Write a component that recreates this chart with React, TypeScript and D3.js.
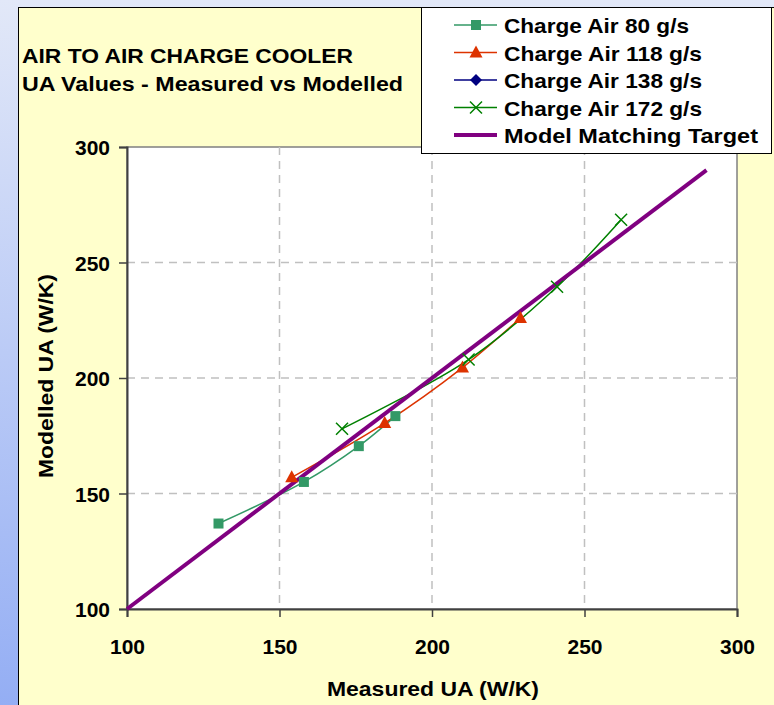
import React, { useEffect, useRef } from 'react';
import * as d3 from 'd3';

// values
const air80X = [130, 158, 176, 188];
const air80Y = [137, 155, 170.5, 183.5];
const air118X = [154, 184.5, 210, 229];
const air118Y = [157, 180.5, 204.5, 226];
const air138X: number[] = [];
const air138Y: number[] = [];
const air172X = [170.5, 212, 241, 262];
const air172Y = [178, 208, 239.5, 268.5];
const targetX = [100, 290];
const targetY = [100, 290];

const xTicks = [100, 150, 200, 250, 300];
const yTicks = [100, 150, 200, 250, 300];
const titleLines = ['AIR TO AIR CHARGE COOLER', 'UA Values - Measured vs Modelled'];

const seriesNames = ['Charge Air 80 g/s', 'Charge Air 118 g/s', 'Charge Air 138 g/s', 'Charge Air 172 g/s', 'Model Matching Target'];
const legendWidths = [185, 198, 198, 198, 254];

const FONT = '"Liberation Sans", Arial, sans-serif';

const App = () => {
    const svgRef = useRef<SVGSVGElement>(null);

    useEffect(() => {
        const svg = d3.select(svgRef.current);
        svg.selectAll('*').remove();

        const width = 774;
        const height = 705;
        const plot = { left: 127, right: 737, top: 147, bottom: 609 };

        const x = d3.scaleLinear().domain([100, 300]).range([plot.left, plot.right]);
        const y = d3.scaleLinear().domain([100, 300]).range([plot.bottom, plot.top]);

        // background gradient
        const defs = svg.append('defs');
        const grad = defs.append('linearGradient')
            .attr('id', 'bg')
            .attr('x1', 0).attr('y1', 0).attr('x2', 0).attr('y2', 1);
        grad.append('stop').attr('offset', '0%').attr('stop-color', '#e2e8f8');
        grad.append('stop').attr('offset', '100%').attr('stop-color', '#94aef4');

        svg.append('rect').attr('width', width).attr('height', height).attr('fill', 'url(#bg)');

        // chart area
        svg.append('rect')
            .attr('x', 18.5).attr('y', 7.5)
            .attr('width', width + 10).attr('height', height + 10)
            .attr('fill', '#ffffcc')
            .attr('stroke', '#000').attr('stroke-width', 1);

        // plot area
        svg.append('rect')
            .attr('x', plot.left).attr('y', plot.top)
            .attr('width', plot.right - plot.left).attr('height', plot.bottom - plot.top)
            .attr('fill', '#fff')
            .attr('stroke', '#808080').attr('stroke-width', 1.5);

        // grid
        const grid = svg.append('g');
        grid.selectAll('line.vx')
            .data(xTicks.filter(d => d > 100 && d < 300))
            .join('line')
            .attr('x1', d => x(d)).attr('x2', d => x(d))
            .attr('y1', plot.top).attr('y2', plot.bottom)
            .attr('stroke', '#c0c0c0').attr('stroke-width', 1.5).attr('stroke-dasharray', '8,6');
        grid.selectAll('line.hy')
            .data(yTicks.filter(d => d > 100 && d < 300))
            .join('line')
            .attr('y1', d => y(d)).attr('y2', d => y(d))
            .attr('x1', plot.left).attr('x2', plot.right)
            .attr('stroke', '#c0c0c0').attr('stroke-width', 1.5).attr('stroke-dasharray', '8,6');

        // axes
        const xAxis = svg.append('g')
            .attr('transform', `translate(0,${plot.bottom})`)
            .call(d3.axisBottom(x).tickValues(xTicks).tickSize(8).tickFormat(d3.format('d')));
        xAxis.select('.domain').attr('stroke', '#404040').attr('stroke-width', 2);
        xAxis.selectAll('.tick line').attr('stroke', '#404040').attr('stroke-width', 1.5);
        xAxis.selectAll('.tick text')
            .attr('y', 45).attr('dy', 0)
            .attr('font-family', FONT).attr('font-size', 21).attr('font-weight', 'bold').attr('fill', '#000');

        const yAxis = svg.append('g')
            .attr('transform', `translate(${plot.left},0)`)
            .call(d3.axisLeft(y).tickValues(yTicks).tickSize(8).tickFormat(d3.format('d')));
        yAxis.select('.domain').attr('stroke', '#404040').attr('stroke-width', 2);
        yAxis.selectAll('.tick line').attr('stroke', '#404040').attr('stroke-width', 1.5);
        yAxis.selectAll('.tick text')
            .attr('x', -17).attr('dy', '0.36em')
            .attr('font-family', FONT).attr('font-size', 21).attr('font-weight', 'bold').attr('fill', '#000');

        // axis titles
        svg.append('text')
            .attr('x', 327)
            .attr('y', 696)
            .attr('font-family', FONT).attr('font-size', 21).attr('font-weight', 'bold')
            .attr('textLength', 212).attr('lengthAdjust', 'spacingAndGlyphs')
            .text('Measured UA (W/K)');

        svg.append('text')
            .attr('transform', `translate(53,478) rotate(-90)`)
            .attr('font-family', FONT).attr('font-size', 21).attr('font-weight', 'bold')
            .attr('textLength', 204).attr('lengthAdjust', 'spacingAndGlyphs')
            .text('Modelled UA (W/K)');

        // title
        svg.append('text')
            .attr('x', 22).attr('y', 63)
            .attr('font-family', FONT).attr('font-size', 20).attr('font-weight', 'bold')
            .attr('textLength', 331).attr('lengthAdjust', 'spacingAndGlyphs')
            .text(titleLines[0]);
        svg.append('text')
            .attr('x', 22).attr('y', 91)
            .attr('font-family', FONT).attr('font-size', 20).attr('font-weight', 'bold')
            .attr('textLength', 381).attr('lengthAdjust', 'spacingAndGlyphs')
            .text(titleLines[1]);

        // series
        const series = [
            { xs: air80X, ys: air80Y, color: '#339966', marker: 'square', width: 1.5 },
            { xs: air118X, ys: air118Y, color: '#dd3300', marker: 'triangle', width: 1.5 },
            { xs: air138X, ys: air138Y, color: '#000080', marker: 'diamond', width: 1.5 },
            { xs: air172X, ys: air172Y, color: '#008000', marker: 'cross', width: 1.5 },
            { xs: targetX, ys: targetY, color: '#800080', marker: 'none', width: 4 },
        ];

        const line = d3.line<[number, number]>()
            .x(d => x(d[0]))
            .y(d => y(d[1]))
            .curve(d3.curveCatmullRom.alpha(0.5));

        const drawMarker = (g: any, kind: string, cx: number, cy: number, color: string) => {
            if (kind === 'square') {
                g.append('rect').attr('x', cx - 5).attr('y', cy - 5).attr('width', 10).attr('height', 10).attr('fill', color);
            } else if (kind === 'triangle') {
                g.append('path').attr('d', `M${cx},${cy - 7}L${cx + 6.5},${cy + 5}L${cx - 6.5},${cy + 5}Z`).attr('fill', color);
            } else if (kind === 'diamond') {
                g.append('path').attr('d', `M${cx},${cy - 6}L${cx + 6},${cy}L${cx},${cy + 6}L${cx - 6},${cy}Z`).attr('fill', color);
            } else if (kind === 'cross') {
                g.append('path').attr('d', `M${cx - 6},${cy - 6}L${cx + 6},${cy + 6}M${cx + 6},${cy - 6}L${cx - 6},${cy + 6}`)
                    .attr('stroke', color).attr('stroke-width', 1.5).attr('fill', 'none');
            }
        };

        const marks = svg.append('g');
        series.forEach(s => {
            const pts = s.xs.map((v, i) => [v, s.ys[i]] as [number, number]);
            if (pts.length < 2) return;
            marks.append('path')
                .datum(pts)
                .attr('d', s.marker === 'none' ? d3.line<[number, number]>().x(d => x(d[0])).y(d => y(d[1]))(pts) : line(pts))
                .attr('fill', 'none')
                .attr('stroke', s.color)
                .attr('stroke-width', s.width);
        });
        series.forEach(s => {
            s.xs.forEach((v, i) => drawMarker(marks, s.marker, x(v), y(s.ys[i]), s.color));
        });

        // legend
        const legend = svg.append('g');
        legend.append('rect')
            .attr('x', 421.5).attr('y', 7.5).attr('width', 350).attr('height', 146)
            .attr('fill', '#fff').attr('stroke', '#000').attr('stroke-width', 1);
        const rowY = d3.scalePoint<number>().domain(d3.range(seriesNames.length)).range([25, 135]);
        seriesNames.forEach((name, i) => {
            const s = series[i];
            const cy = rowY(i) as number;
            legend.append('line')
                .attr('x1', 454).attr('x2', 497).attr('y1', cy).attr('y2', cy)
                .attr('stroke', s.color).attr('stroke-width', s.width);
            drawMarker(legend, s.marker, 476, cy, s.color);
            legend.append('text')
                .attr('x', 504).attr('y', cy + 8)
                .attr('font-family', FONT).attr('font-size', 21).attr('font-weight', 'bold')
                .attr('textLength', legendWidths[i]).attr('lengthAdjust', 'spacingAndGlyphs')
                .text(name);
        });
    }, []);

    return (
        <svg ref={svgRef} width="774" height="705" style={{ position: 'absolute', left: 0, top: 0 }}></svg>
    );
};

export default App;
